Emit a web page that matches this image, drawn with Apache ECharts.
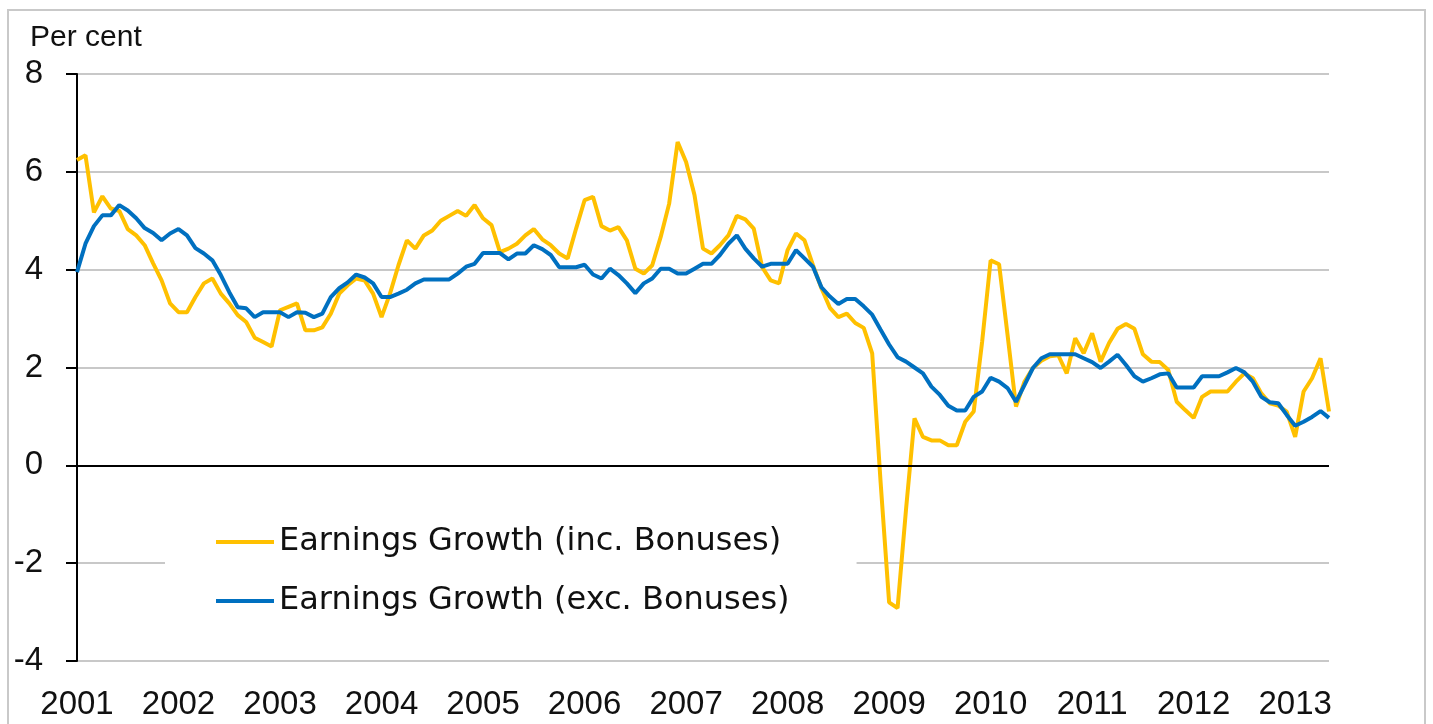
<!DOCTYPE html>
<html>
<head>
<meta charset="utf-8">
<script src="https://cdn.jsdelivr.net/npm/echarts@6/dist/echarts.min.js"></script>
<style>
  html, body { margin: 0; padding: 0; background: #fff; }
  #chart { width: 1433px; height: 724px; }
</style>
</head>
<body>
<div id="chart"></div>
<script>
// tick labels on the x axis, one per January
var years = ['2001', '2002', '2003', '2004', '2005', '2006', '2007',
             '2008', '2009', '2010', '2011', '2012', '2013'];

// monthly values, Jan 2001 - May 2013 (per cent)
var incBonuses = [
    6.24, 6.34, 5.17, 5.5, 5.25, 5.2, 4.83, 4.7, 4.5, 4.13, 3.78, 3.31,
    3.13, 3.13, 3.44, 3.72, 3.82, 3.51, 3.31, 3.07, 2.93, 2.61, 2.52, 2.43,
    3.17, 3.24, 3.31, 2.76, 2.76, 2.82, 3.1, 3.51, 3.68, 3.82, 3.78, 3.51,
    3.03, 3.51, 4.09, 4.6, 4.43, 4.7, 4.8, 5.0, 5.1, 5.2, 5.1, 5.32,
    5.05, 4.91, 4.36, 4.43, 4.53, 4.7, 4.83, 4.62, 4.5, 4.33, 4.23, 4.84,
    5.42, 5.49, 4.89, 4.8, 4.87, 4.6, 4.02, 3.92, 4.09, 4.67, 5.35, 6.61,
    6.2, 5.52, 4.43, 4.33, 4.5, 4.7, 5.1, 5.03, 4.84, 4.05, 3.78, 3.72,
    4.4, 4.74, 4.6, 4.09, 3.62, 3.22, 3.03, 3.1, 2.91, 2.81, 2.29, -0.36,
    -2.8, -2.92, -0.9, 0.96, 0.58, 0.51, 0.51, 0.41, 0.41, 0.89, 1.1, 2.53,
    4.19, 4.11, 2.67, 1.2, 1.71, 1.99, 2.14, 2.23, 2.25, 1.88, 2.6, 2.29,
    2.7, 2.12, 2.5, 2.79, 2.89, 2.79, 2.27, 2.12, 2.11, 1.95, 1.3, 1.13,
    0.97, 1.4, 1.51, 1.51, 1.51, 1.71, 1.88, 1.78, 1.47, 1.27, 1.22, 1.1,
    0.58, 1.51, 1.78, 2.19, 1.1
];

var excBonuses = [
    3.95, 4.53, 4.89, 5.11, 5.11, 5.32, 5.21, 5.05, 4.85, 4.75, 4.6, 4.74,
    4.83, 4.7, 4.44, 4.33, 4.19, 3.89, 3.54, 3.23, 3.21, 3.03, 3.13, 3.13,
    3.13, 3.03, 3.13, 3.12, 3.03, 3.1, 3.44, 3.62, 3.74, 3.9, 3.84, 3.72,
    3.44, 3.44, 3.51, 3.59, 3.72, 3.8, 3.8, 3.8, 3.8, 3.92, 4.06, 4.12,
    4.34, 4.34, 4.34, 4.21, 4.33, 4.33, 4.5, 4.42, 4.3, 4.05, 4.05, 4.05,
    4.1, 3.9, 3.82, 4.02, 3.89, 3.72, 3.52, 3.72, 3.82, 4.02, 4.02, 3.92,
    3.92, 4.02, 4.12, 4.12, 4.3, 4.53, 4.7, 4.43, 4.23, 4.06, 4.12, 4.12,
    4.12, 4.4, 4.23, 4.06, 3.64, 3.45, 3.3, 3.4, 3.4, 3.25, 3.08, 2.77,
    2.47, 2.21, 2.12, 2.0, 1.88, 1.61, 1.44, 1.22, 1.12, 1.12, 1.4, 1.51,
    1.79, 1.71, 1.58, 1.3, 1.64, 1.99, 2.19, 2.27, 2.27, 2.27, 2.27, 2.19,
    2.11, 1.99, 2.12, 2.26, 2.05, 1.82, 1.71, 1.78, 1.86, 1.88, 1.59, 1.59,
    1.59, 1.82, 1.82, 1.82, 1.9, 1.99, 1.9, 1.71, 1.4, 1.29, 1.27, 1.03,
    0.81, 0.89, 0.99, 1.11, 0.97
];

var seriesNames = ['Earnings Growth (inc. Bonuses)', 'Earnings Growth (exc. Bonuses)'];

// category per month, e.g. "2001-01"
var months = [];
for (var i = 0; i < incBonuses.length; i++) {
    var y = years[Math.floor(i / 12)];
    var m = (i % 12) + 1;
    months.push(y + '-' + (m < 10 ? '0' + m : m));
}

var font = '"Liberation Sans", Arial, sans-serif';
var chart = echarts.init(document.getElementById('chart'));

var option = {
    animation: false,
    backgroundColor: '#fff',
    graphic: [{
        type: 'rect',
        shape: { x: 8, y: 10, width: 1417, height: 740 },
        style: { fill: 'none', stroke: '#c9c9c9', lineWidth: 2 },
        silent: true,
        z: -10
    }],
    title: {
        text: 'Per cent',
        left: 25,
        top: 18,
        textStyle: { fontFamily: font, fontSize: 30, fontWeight: 'normal', color: '#111' }
    },
    legend: {
        orient: 'vertical',
        left: 165,
        top: 508,
        padding: [18, 67, 18, 51],
        backgroundColor: '#fff',
        itemGap: 27,
        itemWidth: 58,
        itemHeight: 4,
        icon: 'rect',
        textStyle: { fontFamily: '"DejaVu Sans", sans-serif', fontSize: 32, color: '#111' },
        data: seriesNames
    },
    grid: { left: 77, right: 104, top: 74, bottom: 63 },
    xAxis: {
        type: 'category',
        data: months,
        boundaryGap: false,
        axisLine: { show: false },
        axisTick: { show: false },
        splitLine: { show: false },
        axisLabel: {
            interval: function (idx) { return idx % 12 === 0; },
            formatter: function (val) { return val.slice(0, 4); },
            margin: 27,
            fontFamily: font,
            fontSize: 33,
            color: '#111'
        }
    },
    yAxis: {
        type: 'value',
        min: -4,
        max: 8,
        interval: 2,
        axisLine: { show: true, lineStyle: { color: '#000', width: 2 } },
        axisTick: { show: true, length: 11, lineStyle: { color: '#000', width: 2 } },
        splitLine: { show: true, lineStyle: { color: '#c8c8c8', width: 2 } },
        axisLabel: { margin: 34, fontFamily: font, fontSize: 33, color: '#111' }
    },
    series: [{
        name: seriesNames[0],
        type: 'line',
        data: incBonuses,
        symbol: 'none',
        color: '#FFC000',
        lineStyle: { width: 4, color: '#FFC000' },
        markLine: {
            silent: true,
            symbol: 'none',
            label: { show: false },
            lineStyle: { color: '#000', width: 2, type: 'solid' },
            data: [{ yAxis: 0 }]
        },
        z: 2
    }, {
        name: seriesNames[1],
        type: 'line',
        data: excBonuses,
        symbol: 'none',
        color: '#0070C0',
        lineStyle: { width: 4, color: '#0070C0' },
        z: 3
    }]
};

chart.setOption(option);
</script>
</body>
</html>
